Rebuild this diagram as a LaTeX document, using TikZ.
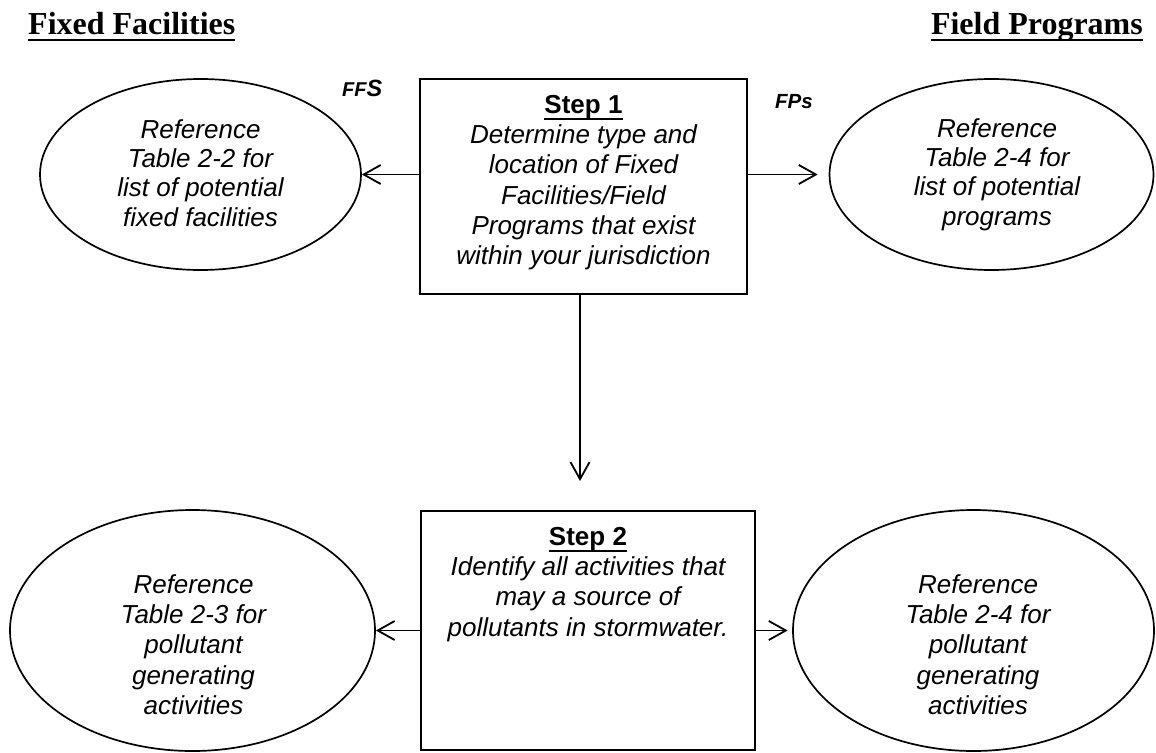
\documentclass[tikz,border=0pt]{standalone}
\usepackage{fontspec}
\setmainfont{Liberation Serif}
\newfontfamily\arial{Liberation Sans}
\usetikzlibrary{shapes.geometric,arrows.meta}
\newcommand\ulx[3]{\setbox0=\hbox{#1}\rlap{\rule[-#2]{\wd0}{#3}}\box0}
\newcommand\fs{\rule{0pt}{20pt}}
\tikzset{
  boxnode/.style={draw, line width=2.2pt, rectangle, inner sep=0pt},
  ellnode/.style={draw, line width=1.7pt, ellipse, inner sep=0pt},
  bodytext/.style={inner sep=0pt, anchor=north, align=center,
     font=\arial\itshape\fontsize{26}{30.3}\selectfont},
  elltext/.style={bodytext, font=\arial\itshape\fontsize{26}{29.3}\selectfont},
  titletext/.style={inner sep=0pt, font=\bfseries\fontsize{32}{36}\selectfont},
  tagtext/.style={inner sep=0pt, anchor=base west, font=\arial\bfseries\itshape},
  arr/.style={line width=1.8pt, -{Straight Barb[length=17pt,width=19pt]}}
}
\begin{document}
\begin{tikzpicture}[x=1pt,y=-1pt]
\useasboundingbox (0,0) rectangle (1156,752);
% titles
\node[titletext, anchor=base west] (tff) at (28,35) {\ulx{Fixed Facilities}{6.5pt}{2pt}};
\node[titletext, anchor=base east] (tfp) at (1143,35) {\ulx{Field Programs}{6.5pt}{2pt}};
% tags
\node[tagtext] (ffs) at (342,96) {{\fontsize{20}{20}\selectfont FF}{\fontsize{23.5}{23.5}\selectfont S}};
\node[tagtext] (fps) at (775,108.5) {\fontsize{20.5}{20.5}\selectfont FPs};
% boxes
\node[boxnode, minimum width=327pt, minimum height=215pt] (step1) at (583.5,186.5) {};
\node[boxnode, minimum width=334pt, minimum height=239pt] (step2) at (588,630.5) {};
\node[bodytext] (s1t) at (583.5,93) {\fs\upshape\bfseries\ulx{Step 1}{7pt}{2pt}\\
  Determine type and\\ location of Fixed\\ Facilities/Field\\ Programs that exist\\ within your jurisdiction};
\node[bodytext] (s2t) at (588,525) {\fs\upshape\bfseries\ulx{Step 2}{7pt}{2pt}\\
  Identify all activities that\\ may a source of\\ pollutants in stormwater.};
% ellipses
\node[ellnode, minimum width=321pt, minimum height=191pt] (e1) at (200.5,174.5) {};
\node[ellnode, minimum width=324pt, minimum height=191pt] (e2) at (991.5,174.5) {};
\node[ellnode, minimum width=365pt, minimum height=241pt] (e3) at (192.5,630.5) {};
\node[ellnode, minimum width=361pt, minimum height=241pt] (e4) at (973.5,630.5) {};
\node[elltext] (e1t) at (200.5,118) {\fs Reference\\ Table 2-2 for\\ list of potential\\ fixed facilities};
\node[elltext] (e2t) at (997,117) {\fs Reference\\ Table 2-4 for\\ list of potential\\ programs};
\node[bodytext] (e3t) at (193.5,573) {\fs Reference\\ Table 2-3 for\\ pollutant\\ generating\\ activities};
\node[bodytext] (e4t) at (978,573) {\fs Reference\\ Table 2-4 for\\ pollutant\\ generating\\ activities};
% connectors
\coordinate (dtip) at (580,481);
\draw[arr] (e1.east -| step1.west) -- (e1.east);
\draw[arr] (e2.west -| step1.east) -- ([xshift=-11pt]e2.west);
\draw[arr] (step1.south -| dtip) -- (dtip);
\draw[arr] (e3.east -| step2.west) -- (e3.east);
\draw[arr] (e4.west -| step2.east) -- ([xshift=-4.5pt]e4.west);
\end{tikzpicture}
\end{document}
